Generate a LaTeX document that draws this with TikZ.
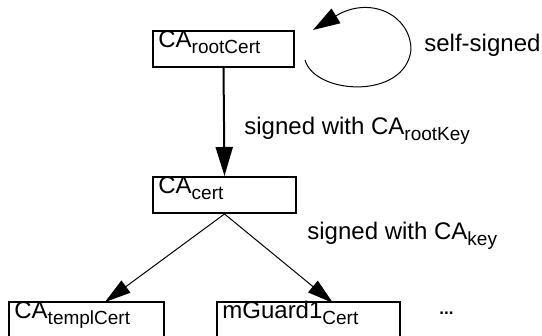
\documentclass[tikz,border=0pt]{standalone}
\usepackage{fontspec}
\setmainfont{Liberation Sans}
\usetikzlibrary{arrows.meta}
\newcommand{\lowtag}[1]{\raisebox{-2.8pt}{\fontsize{9.5}{11}\selectfont #1}}

\begin{document}
\begin{tikzpicture}[x=0.5pt,y=-0.5pt,
  certbox/.style={draw,line width=1pt,inner sep=0pt,minimum height=18pt},
  tag/.style={font=\fontsize{12}{14}\selectfont,inner sep=0pt,anchor=base west,xshift=3pt,yshift=-9pt},
  note/.style={font=\fontsize{12}{14}\selectfont,inner sep=0pt,anchor=base west},
  bigarrow/.style={-{Triangle[length=14.5pt,width=8.5pt]},line width=1pt},
  smallarrow/.style={-{Triangle[length=13pt,width=7.5pt]},line width=0.5pt},
  looparrow/.style={-{Triangle[length=13.5pt,width=8.5pt]},line width=0.5pt} ]

\useasboundingbox (0,0) rectangle (542,336);

% certificate boxes
\node[certbox,minimum width=70.5pt] (root) at (223.5,49) {};
\node[certbox,minimum width=71.5pt] (ca) at (224.5,195) {};
\node[certbox,minimum width=77.5pt] (templ) at (86.5,320) {};
\node[certbox,minimum width=91.5pt] (guard) at (308.5,320) {};

\node[tag] (rootT) at (root.north west) {CA\lowtag{rootCert}};
\node[tag] (caT) at (ca.north west) {CA\lowtag{cert}};
\node[tag] (templT) at (templ.north west) {CA\lowtag{templCert}};
\node[tag] (guardT) at (guard.north west) {mGuard1\lowtag{Cert}};

% labels
\node[note] (selfT) at (424,52) {self-signed};
\node[note] (rootKeyT) at (244,135) {signed with CA\lowtag{rootKey}};
\node[note] (keyT) at (307,240) {signed with CA\lowtag{key}};
\node[note,font=\fontsize{8.5}{10}\selectfont\bfseries] (more) at (439,315) {...};

% signing arrows
\draw[bigarrow] (root.south) -- (ca.north);

\coordinate (templTip) at (105,302);
\coordinate (guardTip) at (333,303);
\draw[smallarrow] (ca.south) -- (templTip);
\draw[smallarrow] (ca.south) -- (guardTip);

\coordinate (loopStart) at (305,60);
\coordinate (loopEnd) at (313,30);
\draw[looparrow] (loopStart) .. controls (315,95) and (405,100) .. (411,50)
  .. controls (411,15) and (370,-5) .. (loopEnd);

\end{tikzpicture}
\end{document}
